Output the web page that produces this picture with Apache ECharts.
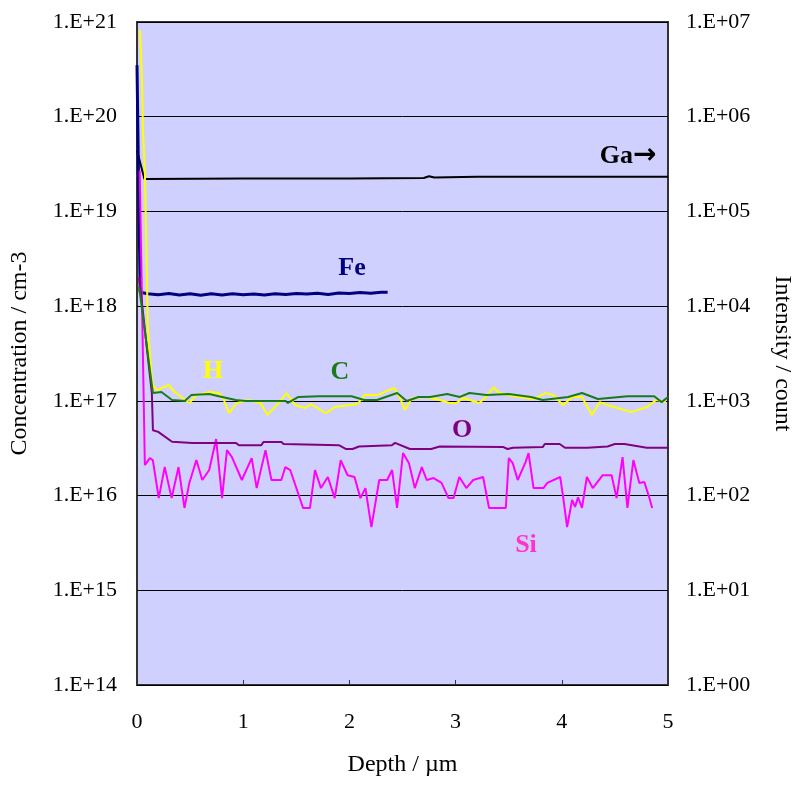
<!DOCTYPE html>
<html>
<head>
<meta charset="utf-8">
<script src="https://cdn.jsdelivr.net/npm/echarts@6/dist/echarts.min.js"></script>
<style>
  html, body { margin: 0; padding: 0; background: #fff; }
  #chart { width: 802px; height: 785px; }
</style>
</head>
<body>
<div id="chart"></div>
<script>
// depth (um) vs concentration (cm-3)
var gaData = [[0.0, 4.4e5], [0.07, 2.2e5], [1.0, 2.22e5], [2.0, 2.22e5], [2.7, 2.25e5],
  [2.75, 2.35e5], [2.8, 2.28e5], [3.2, 2.32e5], [5.0, 2.32e5]]; // right axis, counts

var feData = [[0.0, 3.5e20], [0.015, 2.0e19], [0.03, 1.4e18], [0.1, 1.35e18], [0.2, 1.32e18],
  [0.3, 1.36e18], [0.4, 1.31e18], [0.5, 1.35e18], [0.6, 1.30e18], [0.7, 1.35e18],
  [0.8, 1.31e18], [0.9, 1.35e18], [1.0, 1.32e18], [1.1, 1.34e18], [1.2, 1.31e18],
  [1.3, 1.35e18], [1.4, 1.33e18], [1.5, 1.36e18], [1.6, 1.34e18], [1.7, 1.37e18],
  [1.8, 1.33e18], [1.9, 1.38e18], [2.0, 1.36e18], [2.1, 1.39e18], [2.2, 1.37e18],
  [2.3, 1.40e18], [2.36, 1.40e18]];

var hData = [[0.028, 8.2e20], [0.047, 2.4e20], [0.056, 7.2e19], [0.074, 2.7e19], [0.085, 6.4e18],
  [0.102, 6.0e17], [0.14, 1.66e17], [0.149, 1.47e17], [0.186, 1.30e17], [0.298, 1.47e17],
  [0.354, 1.24e17], [0.493, 0.95e17], [0.559, 1.15e17], [0.68, 1.24e17], [0.773, 1.21e17],
  [0.819, 1.02e17], [0.866, 0.74e17], [0.94, 0.95e17], [1.052, 1.02e17], [1.164, 0.95e17],
  [1.229, 0.71e17], [1.359, 1.02e17], [1.406, 1.21e17], [1.49, 0.90e17], [1.583, 0.84e17],
  [1.639, 0.925e17], [1.778, 0.74e17], [1.862, 0.86e17], [2.076, 0.925e17], [2.142, 1.15e17],
  [2.263, 1.15e17], [2.421, 1.37e17], [2.477, 1.07e17], [2.523, 0.80e17], [2.588, 1.07e17],
  [2.728, 1.10e17], [2.849, 1.02e17], [2.942, 0.95e17], [3.007, 0.95e17], [3.073, 1.07e17],
  [3.222, 0.95e17], [3.287, 1.10e17], [3.361, 1.40e17], [3.399, 1.24e17], [3.473, 1.15e17],
  [3.734, 1.045e17], [3.845, 1.21e17], [3.92, 1.15e17], [4.013, 0.90e17], [4.097, 1.10e17],
  [4.19, 1.10e17], [4.283, 0.71e17], [4.358, 0.97e17], [4.432, 0.90e17], [4.655, 0.76e17],
  [4.804, 0.86e17], [4.888, 1.02e17], [4.981, 0.97e17]];

var cData = [[0.02, 1.6e18], [0.15, 1.21e17], [0.23, 1.24e17], [0.33, 1.02e17], [0.45, 0.995e17],
  [0.51, 1.15e17], [0.68, 1.18e17], [0.77, 1.12e17], [0.93, 1.02e17], [1.02, 0.995e17],
  [1.40, 0.995e17], [1.42, 0.95e17], [1.45, 0.995e17], [1.52, 1.10e17], [1.71, 1.12e17],
  [2.02, 1.12e17], [2.14, 1.02e17], [2.26, 1.02e17], [2.45, 1.21e17], [2.54, 0.995e17],
  [2.65, 1.10e17], [2.76, 1.10e17], [2.92, 1.18e17], [3.04, 1.10e17], [3.13, 1.21e17],
  [3.29, 1.15e17], [3.50, 1.18e17], [3.71, 1.10e17], [3.82, 1.02e17], [4.06, 1.10e17],
  [4.19, 1.21e17], [4.34, 1.045e17], [4.62, 1.12e17], [4.87, 1.12e17], [4.94, 0.97e17],
  [5.0, 1.10e17]];

var oData = [[0.02, 2.0e18], [0.14, 1.2e17], [0.15, 4.9e16], [0.2, 4.7e16], [0.33, 3.7e16],
  [0.52, 3.6e16], [0.93, 3.6e16], [0.96, 3.4e16], [1.17, 3.4e16], [1.19, 3.67e16],
  [1.36, 3.67e16], [1.38, 3.5e16], [1.90, 3.4e16], [1.97, 3.1e16], [2.03, 3.1e16],
  [2.09, 3.3e16], [2.40, 3.4e16], [2.43, 3.6e16], [2.57, 3.1e16], [2.77, 3.1e16],
  [2.85, 3.3e16], [3.45, 3.25e16], [3.49, 3.1e16], [3.54, 3.2e16], [3.82, 3.25e16],
  [3.84, 3.5e16], [3.98, 3.5e16], [4.03, 3.2e16], [4.24, 3.2e16], [4.43, 3.3e16],
  [4.50, 3.5e16], [4.59, 3.5e16], [4.80, 3.2e16], [5.0, 3.2e16]];

var siData = [[0.025, 2.7e19], [0.074, 2.1e16], [0.121, 2.49e16], [0.149, 2.37e16], [0.205, 9.4e15],
  [0.261, 2.0e16], [0.326, 9.4e15], [0.391, 2.0e16], [0.447, 7.4e15], [0.493, 1.36e16],
  [0.559, 2.37e16], [0.615, 1.46e16], [0.680, 1.86e16], [0.745, 3.95e16], [0.801, 9.4e15],
  [0.847, 3.02e16], [0.894, 2.55e16], [0.987, 1.46e16], [1.080, 2.49e16], [1.127, 1.20e16],
  [1.210, 3.02e16], [1.266, 1.46e16], [1.359, 1.46e16], [1.397, 2.0e16], [1.443, 1.86e16],
  [1.564, 7.4e15], [1.629, 7.4e15], [1.676, 1.86e16], [1.732, 1.20e16], [1.797, 1.57e16],
  [1.862, 9.4e15], [1.918, 2.37e16], [1.983, 1.64e16], [2.048, 1.57e16], [2.104, 9.4e15],
  [2.151, 1.20e16], [2.207, 4.65e15], [2.281, 1.46e16], [2.356, 1.46e16], [2.402, 1.86e16],
  [2.449, 7.4e15], [2.505, 2.81e16], [2.561, 2.2e16], [2.616, 1.20e16], [2.682, 2.0e16],
  [2.728, 1.46e16], [2.793, 1.53e16], [2.868, 1.36e16], [2.933, 9.4e15], [2.980, 9.4e15],
  [3.035, 1.57e16], [3.101, 1.20e16], [3.166, 1.46e16], [3.259, 1.57e16], [3.315, 7.4e15],
  [3.473, 7.4e15], [3.501, 2.49e16], [3.538, 2.2e16], [3.585, 1.46e16], [3.659, 2.26e16],
  [3.687, 2.81e16], [3.734, 1.20e16], [3.827, 1.20e16], [3.864, 1.36e16], [3.985, 1.57e16],
  [4.013, 9.6e15], [4.050, 4.65e15], [4.097, 9.0e15], [4.125, 7.6e15], [4.153, 9.6e15],
  [4.190, 7.4e15], [4.236, 1.57e16], [4.292, 1.20e16], [4.385, 1.64e16], [4.469, 1.64e16],
  [4.516, 9.4e15], [4.572, 2.55e16], [4.618, 7.4e15], [4.674, 2.37e16], [4.730, 1.36e16],
  [4.777, 1.39e16], [4.823, 9.6e15], [4.851, 7.4e15]];

var depthTicks = [0, 1, 2, 3, 4, 5];

var serif = '"Liberation Serif", "DejaVu Serif", serif';

function expLabel(v) {
  var e = Math.round(Math.log(v) / Math.LN10);
  return '1.E+' + (e < 10 ? '0' : '') + e;
}

function line(name, data, color, width, yIdx) {
  return {
    name: name,
    type: 'line',
    yAxisIndex: yIdx || 0,
    data: data,
    symbol: 'none',
    animation: false,
    lineStyle: { color: color, width: width }
  };
}

function tag(text, x, y, color) {
  return {
    type: 'text',
    x: x, y: y,
    style: {
      text: text, fill: color,
      font: 'bold 26px ' + serif,
      align: 'center', verticalAlign: 'middle'
    }
  };
}

var myChart = echarts.init(document.getElementById('chart'));

var option = {
  animation: false,
  backgroundColor: '#ffffff',
  grid: {
    left: 137, right: 128, top: 22, bottom: 100,
    show: true,
    backgroundColor: '#d0d0ff',
    borderColor: '#333333',
    borderWidth: 2
  },
  xAxis: {
    type: 'value',
    min: depthTicks[0],
    max: depthTicks[depthTicks.length - 1],
    interval: 1,
    name: 'Depth / µm',
    nameLocation: 'middle',
    nameGap: 68,
    nameTextStyle: { fontFamily: serif, fontSize: 24, color: '#000' },
    axisLine: { show: false },
    axisTick: { show: true, inside: true, length: 5, lineStyle: { color: '#333' } },
    axisLabel: { fontFamily: serif, fontSize: 22, color: '#000', margin: 26 },
    splitLine: { show: false }
  },
  yAxis: [
    {
      type: 'log',
      logBase: 10,
      min: 1e14,
      max: 1e21,
      position: 'left',
      name: 'Concentration / cm-3',
      nameLocation: 'middle',
      nameGap: 105,
      nameTextStyle: { fontFamily: serif, fontSize: 24, color: '#000' },
      axisLine: { show: false },
      axisTick: { show: false },
      axisLabel: { fontFamily: serif, fontSize: 22, color: '#000', margin: 20, formatter: expLabel },
      splitLine: { show: true, lineStyle: { color: '#000', width: 1 } }
    },
    {
      type: 'log',
      logBase: 10,
      min: 1,
      max: 1e7,
      position: 'right',
      name: 'Intensity / count',
      nameLocation: 'middle',
      nameGap: 102,
      nameRotate: -90,
      nameTextStyle: { fontFamily: serif, fontSize: 24, color: '#000' },
      axisLine: { show: false },
      axisTick: { show: false },
      axisLabel: { fontFamily: serif, fontSize: 22, color: '#000', margin: 18, formatter: expLabel },
      splitLine: { show: false }
    }
  ],
  series: [
    line('Ga', gaData, '#000000', 2, 1),
    line('Fe', feData, '#000080', 3),
    line('Si', siData, '#ff00ff', 2),
    line('O', oData, '#800080', 2),
    line('H', hData, '#ffff00', 2),
    line('C', cData, '#1a7a1a', 2)
  ],
  graphic: [
    {
      type: 'text',
      x: 628, y: 156,
      style: {
        text: '{g|Ga}{a|→}',
        align: 'center', verticalAlign: 'middle',
        rich: {
          g: { font: 'bold 26px ' + serif, fill: '#000' },
          a: { font: 'bold 28px "DejaVu Sans", sans-serif', fill: '#000' }
        }
      }
    },
    tag('Fe', 352, 268, '#000080'),
    tag('H', 213, 371, '#ffff00'),
    tag('C', 340, 372, '#1a7a1a'),
    tag('O', 462, 430, '#800080'),
    tag('Si', 526, 545, '#ff33cc')
  ]
};

myChart.setOption(option);
</script>
</body>
</html>
